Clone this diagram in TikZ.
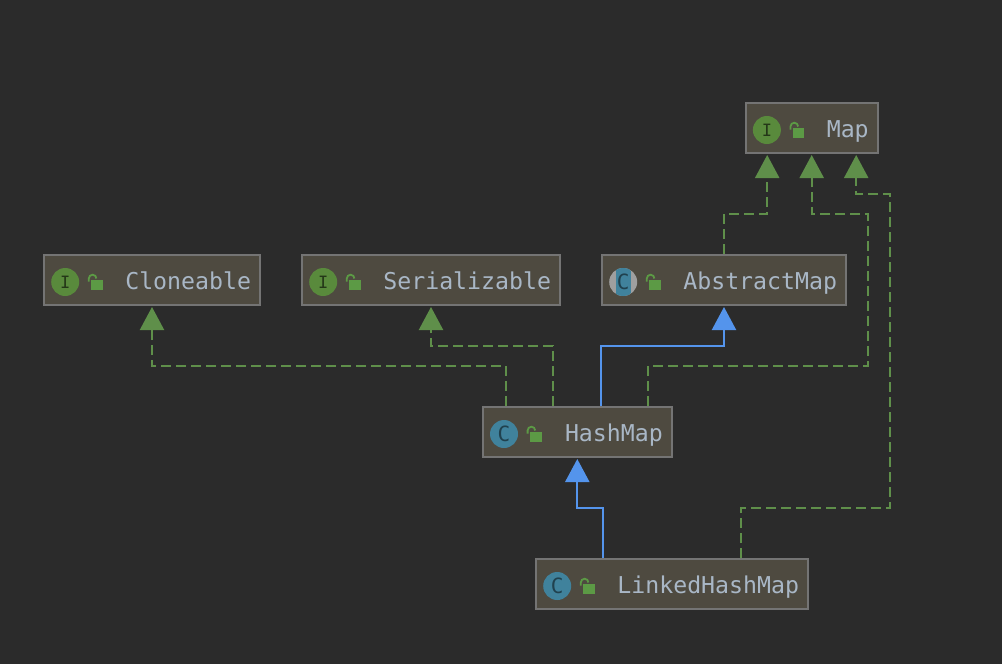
\documentclass[tikz,border=0pt]{standalone}
\usepackage{fontspec}
\setmonofont{DejaVu Sans Mono}
\usepackage{xcolor}
\usetikzlibrary{arrows.meta,positioning}
\definecolor{canvas}{HTML}{2B2B2B}
\definecolor{boxfill}{HTML}{4E4A40}
\definecolor{boxline}{HTML}{747474}
\definecolor{depgreen}{HTML}{5F8F4A}
\definecolor{extblue}{HTML}{5494EC}
\definecolor{labeltext}{HTML}{A9B7C6}
\definecolor{ifacegreen}{HTML}{598A3C}
\definecolor{classteal}{HTML}{40829C}
\definecolor{lockgreen}{HTML}{5C9A45}
\tikzset{
  classbox/.style={draw=boxline,fill=boxfill,line width=2pt,minimum height=50pt,inner sep=0pt,outer sep=1pt},
  classlabel/.style={text=labeltext,font=\ttfamily\fontsize{23.2}{24}\selectfont,inner sep=0pt,anchor=base east},
  iconbase/.style={circle,minimum size=28pt,inner sep=0pt},
  ifaceicon/.style={iconbase,fill=ifacegreen,text=black!60!ifacegreen,font=\ttfamily\fontsize{17}{18}\selectfont},
  classicon/.style={iconbase,fill=classteal,text=black!50!classteal,font=\ttfamily\fontsize{21}{22}\selectfont},
  abstracticon/.style={classicon,fill=gray!75,
    path picture={\fill[classteal] ([xshift=-7.5pt]path picture bounding box.north) rectangle ([xshift=7.5pt]path picture bounding box.south);}},
  implements/.style={draw=depgreen,line width=2.2pt,dash pattern=on 10pt off 5pt,-{Triangle[length=23pt,width=24pt,fill=depgreen]}},
  extends/.style={draw=extblue,line width=2.2pt,-{Triangle[length=23pt,width=24pt,fill=extblue]}}
}

\begin{document}
\begin{tikzpicture}[x=1pt,y=-1pt]
    \fill[canvas] (0,0) rectangle (1002,664);
    \useasboundingbox (0,0) rectangle (1002,664);

    \node[classbox,minimum width=132pt] (map) at (811.7,128) {};
    \node[classbox,minimum width=216pt] (cloneable) at (152,280) {};
    \node[classbox,minimum width=258pt] (serial) at (431,280) {};
    \node[classbox,minimum width=244pt] (absmap) at (724,280) {};
    \node[classbox,minimum width=189pt] (hashmap) at (577.3,432) {};
    \node[classbox,minimum width=272pt] (linked) at (672,584) {};

    \foreach \n/\s/\l/\t in {map/ifaceicon/I/Map,cloneable/ifaceicon/I/Cloneable,serial/ifaceicon/I/Serializable,
      absmap/abstracticon/C/AbstractMap,hashmap/classicon/C/HashMap,linked/classicon/C/LinkedHashMap}
    {
      \node[\s,right=8pt of \n.west,yshift=-2pt] (\n icon) {\l};
      \node[classlabel] (\n label) at ([shift={(-9.8,9.7)}]\n.east) {\t};
      \fill[lockgreen] ([shift={(26,-1.7)}]\n icon.center) rectangle ++(11.5,9.7);
      \draw[lockgreen,line width=1.8pt] ([shift={(23.6,-0.5)}]\n icon.center) -- ++(0,-3) arc[start angle=180,end angle=360,radius=3.8];
    }

    % dashed lines go to the interfaces
    \draw[implements] (absmap.north) -- ++(0,-40) -| ([xshift=-44.5pt,yshift=-1pt]map.south);
    \draw[implements] ([xshift=70.7pt]hashmap.north) -- ++(0,-40) -- ++(220,0) -- ++(0,-152) -| ([yshift=-1pt]map.south);
    \draw[implements] ([xshift=69pt]linked.north) -- ++(0,-50) -- ++(149,0) -- ++(0,-314) -| ([xshift=44.5pt,yshift=-1pt]map.south);
    \draw[implements] ([xshift=-71.3pt]hashmap.north) -- ++(0,-40) -| ([yshift=-1pt]cloneable.south);
    \draw[implements] ([xshift=-24.3pt]hashmap.north) -- ++(0,-60) -| ([yshift=-1pt]serial.south);

    % solid lines are the superclasses
    \draw[extends] ([xshift=23.7pt]hashmap.north) -- ++(0,-60) -| ([yshift=-1pt]absmap.south);
    \draw[extends] ([xshift=-69pt]linked.north) -- ++(0,-50) -| ([yshift=-1pt]hashmap.south);
\end{tikzpicture}
\end{document}
